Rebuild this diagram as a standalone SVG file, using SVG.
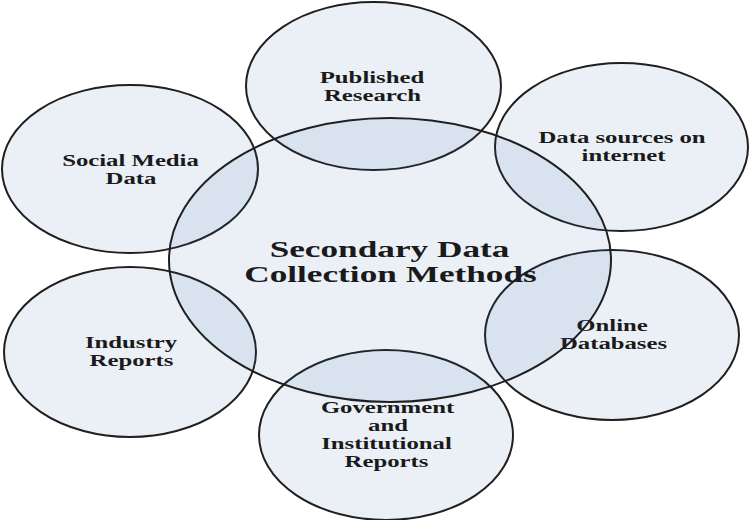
<svg xmlns="http://www.w3.org/2000/svg" width="752" height="520" viewBox="0 0 752 520">
<style>
.bubble{fill:#3769af;fill-opacity:0.1;stroke:#1f1f1f;stroke-width:2}
.lbl{font-family:"Liberation Serif","Times New Roman",serif;font-weight:bold;font-size:16.5px;fill:#1a1a1a;text-anchor:middle}
.main{font-size:23.5px}
</style>
<rect width="752" height="520" fill="#ffffff"/>
<g id="connectors"></g>
<g id="published-research">
<ellipse class="bubble" cx="373.5" cy="86" rx="127.5" ry="84"/>
<text class="lbl" transform="translate(372,83) scale(1.5,1)">Published</text>
<text class="lbl" transform="translate(372.5,101) scale(1.5,1)">Research</text>
</g>
<g id="data-sources-internet">
<ellipse class="bubble" cx="621.5" cy="147" rx="126.5" ry="84"/>
<text class="lbl" transform="translate(622,143) scale(1.5,1)">Data sources on</text>
<text class="lbl" transform="translate(623.5,161) scale(1.5,1)">internet</text>
</g>
<g id="social-media-data">
<ellipse class="bubble" cx="130" cy="169" rx="128" ry="84"/>
<text class="lbl" transform="translate(130.5,166) scale(1.5,1)">Social Media</text>
<text class="lbl" transform="translate(131,184) scale(1.5,1)">Data</text>
</g>
<g id="industry-reports">
<ellipse class="bubble" cx="130" cy="352" rx="126" ry="85"/>
<text class="lbl" transform="translate(131,348) scale(1.5,1)">Industry</text>
<text class="lbl" transform="translate(131.5,366) scale(1.5,1)">Reports</text>
</g>
<g id="online-databases">
<ellipse class="bubble" cx="612" cy="335" rx="127" ry="85"/>
<text class="lbl" transform="translate(612,331) scale(1.5,1)">Online</text>
<text class="lbl" transform="translate(613.5,349) scale(1.5,1)">Databases</text>
</g>
<g id="government-reports">
<ellipse class="bubble" cx="386" cy="435" rx="127" ry="85"/>
<text class="lbl" transform="translate(387.5,413) scale(1.5,1)">Government</text>
<text class="lbl" transform="translate(388,431) scale(1.5,1)">and</text>
<text class="lbl" transform="translate(386.5,449) scale(1.5,1)">Institutional</text>
<text class="lbl" transform="translate(386.5,467) scale(1.5,1)">Reports</text>
</g>
<g id="secondary-data-collection">
<ellipse class="bubble" cx="390" cy="260" rx="221" ry="142"/>
<text class="lbl main" transform="translate(389.5,257) scale(1.5,1)">Secondary Data</text>
<text class="lbl main" transform="translate(390.5,282) scale(1.5,1)">Collection Methods</text>
</g>
</svg>
